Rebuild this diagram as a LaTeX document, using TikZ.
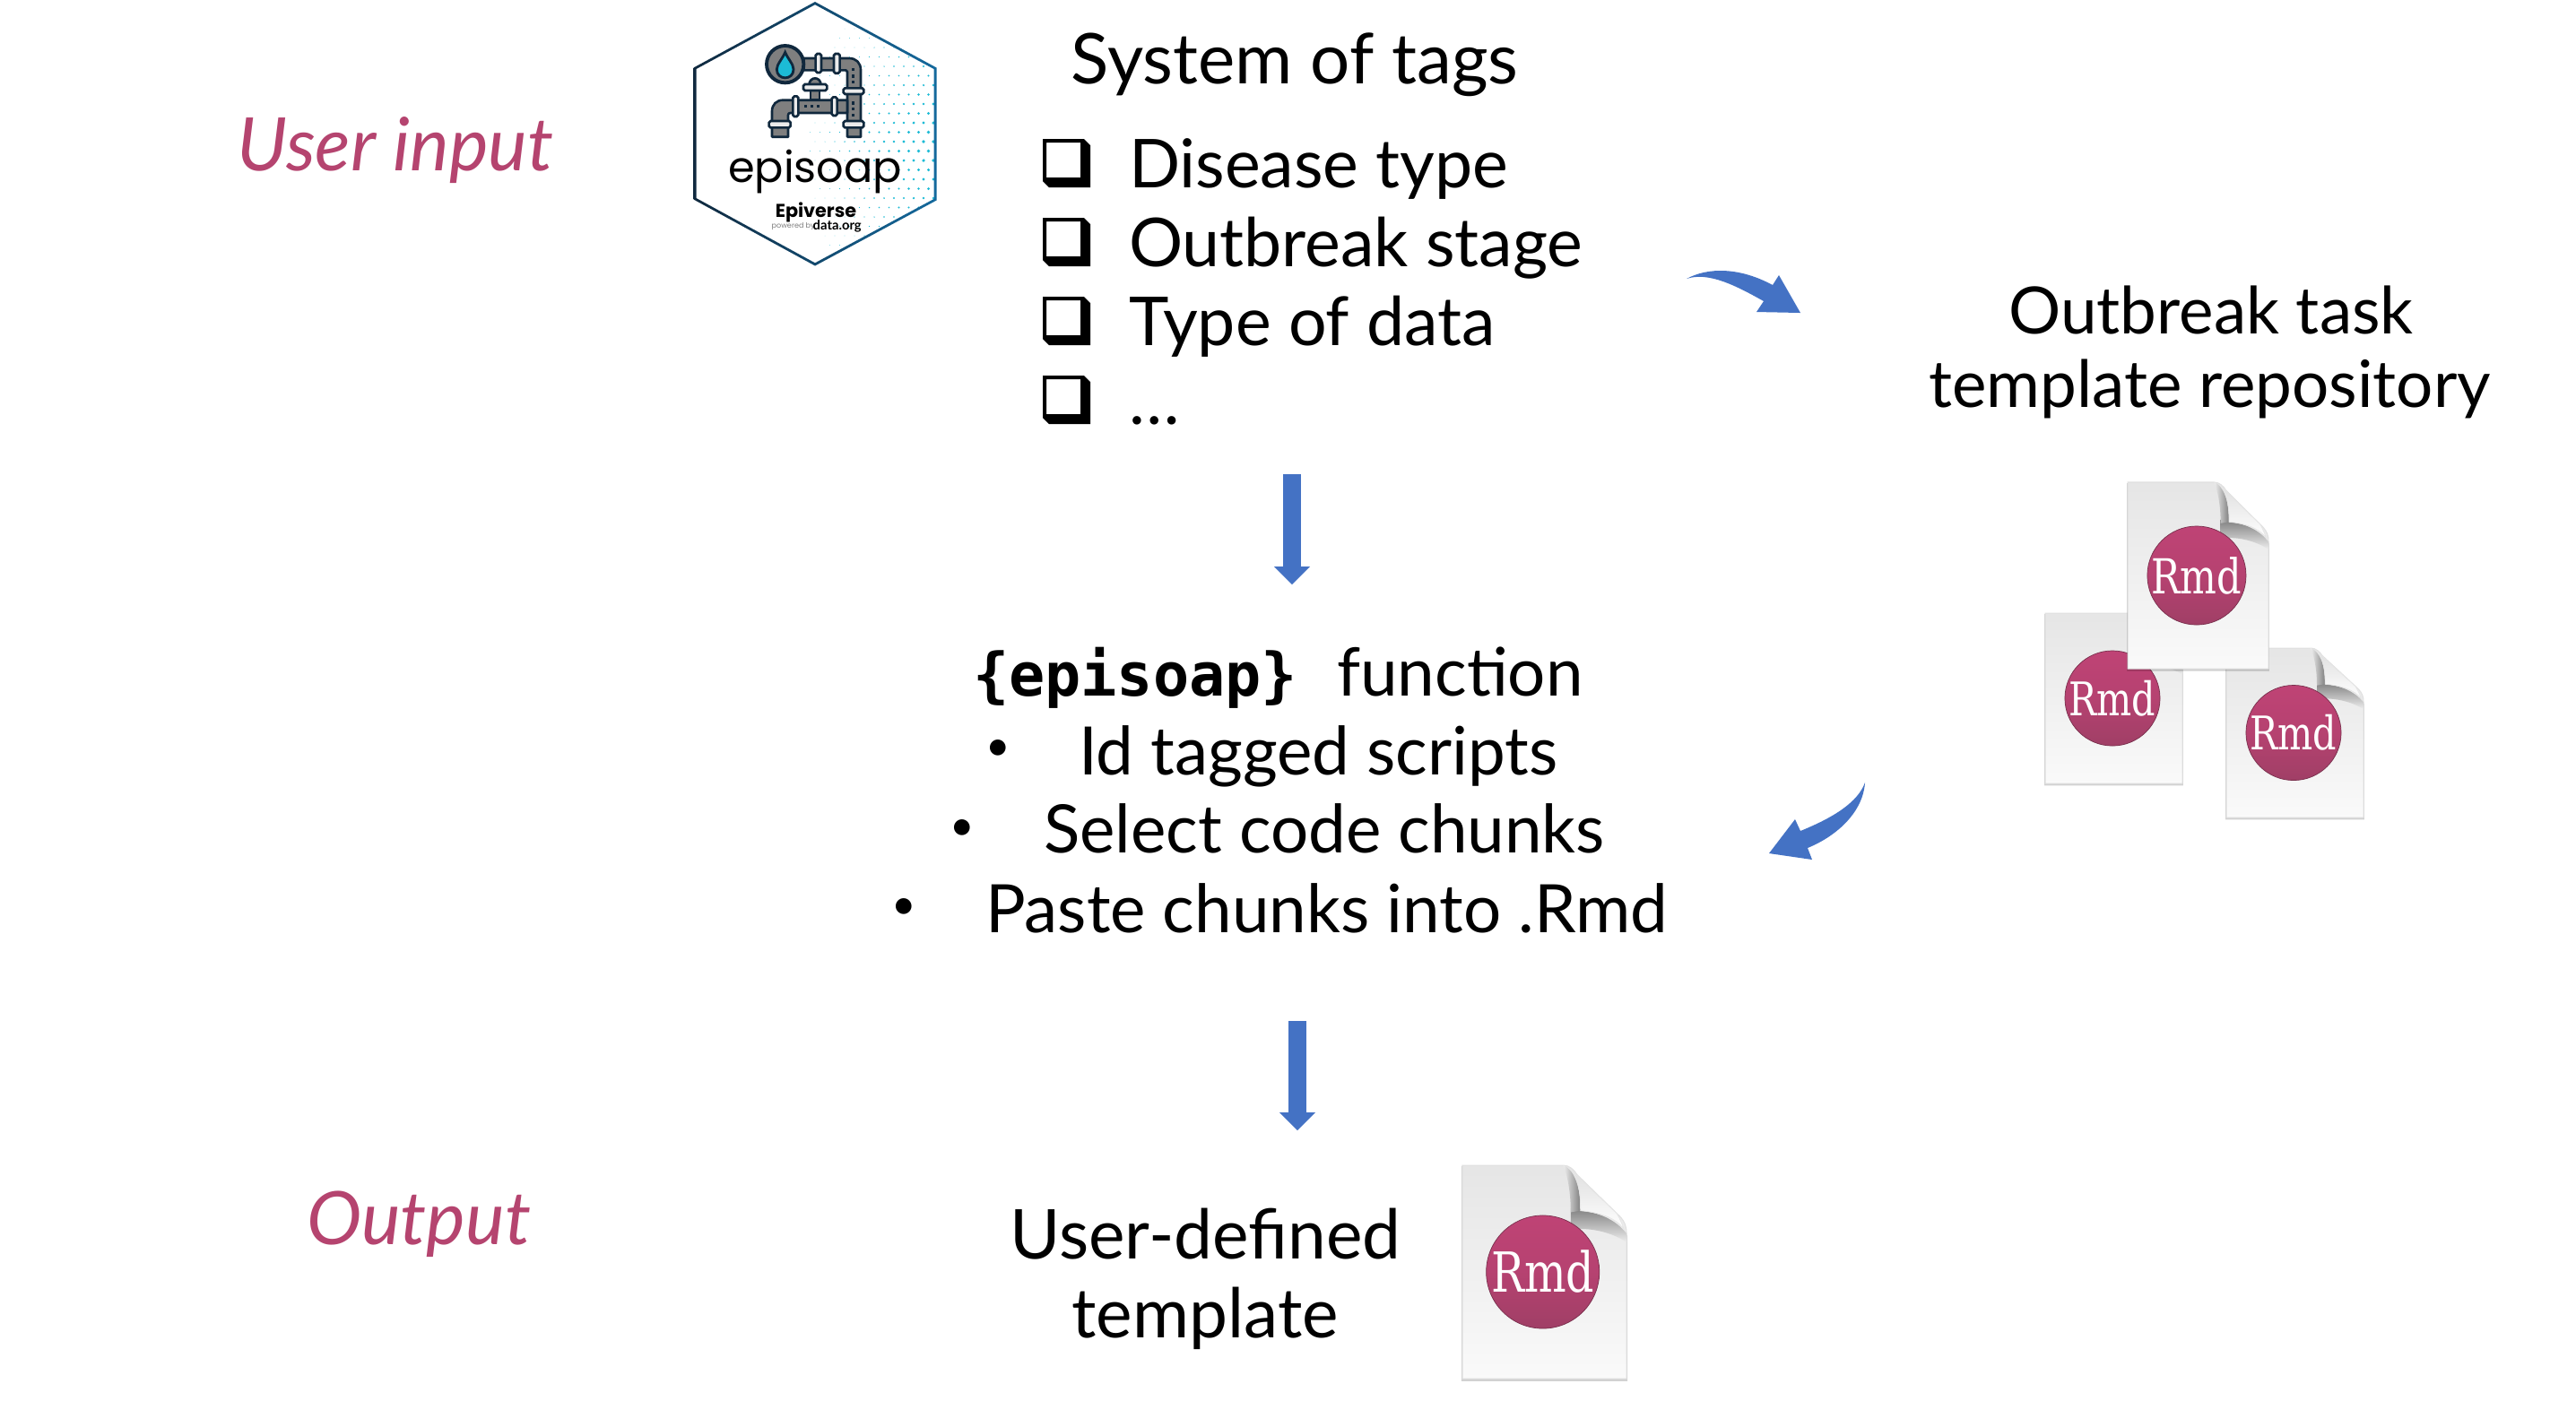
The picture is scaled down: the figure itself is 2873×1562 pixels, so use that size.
\documentclass[tikz,border=0pt]{standalone}
\usepackage{fontspec}
\usetikzlibrary{arrows.meta}
\setmainfont{Lato}
\newfontfamily\codefont{DejaVu Sans Mono}
\newfontfamily\rmdfont{DejaVu Serif}
\newfontfamily\logofont{Poppins}
\definecolor{plum}{HTML}{B5446F}
\definecolor{blockblue}{HTML}{4472C4}
\definecolor{rmdtop}{HTML}{BF4375}
\definecolor{rmdbot}{HTML}{A03F66}
\definecolor{navy}{HTML}{10283D}
\definecolor{hexblue}{HTML}{146A9E}
\definecolor{dropcyan}{HTML}{1CBBD6}
\definecolor{pipegrey}{HTML}{7F7F7F}
\newcommand{\fs}[1]{\fontsize{#1}{#1}\selectfont}
\tikzset{
  x=0.01cm,y=-0.01cm,
  body/.style={inner sep=0pt,outer sep=0pt,text=black,font=\fs{21.4}},
  midtext/.style={body,font=\fs{21.2}},
  repotext/.style={body,font=\fs{20.7}},
  outtext/.style={body,font=\fs{21.8}},
  lead/.style={body,text=plum,font=\fs{23.4}\itshape},
  blockarrow/.style={draw=blockblue,line width=5.69pt,-{Triangle[length=5.69pt,width=11.38pt,line width=0pt,fill=blockblue]}},
  pipeline/.style={draw=navy,line width=0.75pt,fill=pipegrey,line join=round},
  flange/.style={draw=navy,line width=0.75pt,fill=white!92!black,rounded corners=0.5pt},
}
% checkbox bullet with its top-left corner at (#1,#2)
\newcommand{\tagbox}[2]{%
  \begin{scope}[shift={(#1,#2)}]
    \fill[black,even odd rule] (0,0) -- (46,0) -- (53,7) -- (53,54) -- (7,54) -- (0,47) -- cycle
      (4,4) rectangle (42,43);
  \end{scope}}
% #1 name, #2 left, #3 top, #4 width, #5 height, #6 radius, #7 font size
\newcommand{\rmdicon}[7]{%
  \begin{scope}[shift={(#2,#3)},x=#4*0.01cm,y=-#5*0.01cm]
    \fill[black,opacity=.18] (-0.006,0.005) -- (0.6,0.005) -- (1.006,0.33) -- (1.006,1.012) -- (-0.006,1.012) -- cycle;
    \shade[top color=black!10,bottom color=white!98!black,draw=black!12,line width=0.3pt]
      (0,0) -- (0.615,0) .. controls (0.65,0) and (0.68,0.02) .. (0.70,0.045)
      -- (0.96,0.24) .. controls (0.99,0.265) and (1,0.285) .. (1,0.32)
      -- (1,1) -- (0,1) -- cycle;
    \shade[top color=black!50,bottom color=black!7]
      (0.72,0.213) .. controls (0.82,0.22) and (0.93,0.25) .. (1,0.32) -- (1,0.36) .. controls (0.92,0.32) and (0.8,0.29) .. (0.66,0.30) -- (0.66,0.2) -- cycle;
    \shade[left color=black!7,right color=black!50]
      (0.615,0) .. controls (0.68,0.02) and (0.72,0.1) .. (0.72,0.213) -- (0.66,0.22) .. controls (0.66,0.12) and (0.64,0.05) .. (0.615,0) -- cycle;
    \shade[top color=black!12,bottom color=white,draw=black!10,line width=0.2pt]
      (0.68,0.035) .. controls (0.71,0.08) and (0.72,0.14) .. (0.72,0.213)
      .. controls (0.82,0.22) and (0.93,0.24) .. (0.985,0.30)
      .. controls (0.97,0.27) and (0.96,0.25) .. (0.94,0.225) -- cycle;
    \node[circle,inner sep=0pt,minimum size=#6*0.02cm,top color=rmdtop,bottom color=rmdbot,middle color=rmdtop!70!rmdbot,draw=rmdbot!75!black,line width=0.2pt,text=white,font=\rmdfont\fs{#7}] (#1) at (0.49,0.5) {\scalebox{0.8}[1]{Rmd}};
  \end{scope}}
\begin{document}
\begin{tikzpicture}
\useasboundingbox (0,0) rectangle (2873,1562);
\fill[white] (0,0) rectangle (2873,1562);

% labels
\node[lead,anchor=base] (userinput) at (441,190) {User input};
\node[lead,anchor=base] (output) at (467,1388) {Output};

% hexagon sticker
\coordinate (hT) at (909,3); \coordinate (hUR) at (1043,76); \coordinate (hLR) at (1043,223);
\coordinate (hB) at (909,295); \coordinate (hLL) at (775,222); \coordinate (hUL) at (775,76);
\begin{scope}
  \clip (hT) -- (hUR) -- (hLR) -- (hB) -- (hLL) -- (hUL) -- cycle;
  \foreach \i in {0,...,16}{
    \foreach \j in {0,...,24}{
      \pgfmathsetmacro{\px}{876+\i*11.0+mod(\j,2)*5.5}
      \pgfmathsetmacro{\py}{32+\j*10.5}
      \pgfmathsetmacro{\rr}{max(0,(\px-880)/165*2.1*(1-abs(\py-165)/200))}
      \ifdim \rr pt>0.25pt
        \fill[dropcyan] (\px,\py) circle[radius=\rr];
      \fi
    }
  }
\end{scope}
\begin{scope}[even odd rule]
  \clip (909,2) -- (1044.5,75.5) -- (1044.5,223.5) -- (909,296.5) -- (773.5,222.5) -- (773.5,75.5) -- cycle
    (909,5.2) -- (1041.5,77) -- (1041.5,222) -- (909,293.3) -- (776.5,221) -- (776.5,77) -- cycle;
  \shade[left color=navy,right color=hexblue] (770,0) rectangle (1048,300);
\end{scope}

% pipe icon, in the coordinates of a 3x view of the sticker
\begin{scope}[shift={(760,0)},x=0.01cm/3,y=-0.01cm/3]
  \draw[pipeline] (410,195) -- (560,195) .. controls (585,195) and (600,210) .. (600,235) -- (600,458) -- (555,458) -- (555,240) .. controls (555,237) and (553,235) .. (550,235) -- (410,235) -- cycle;
  \draw[pipeline] (555,335) -- (340,335) .. controls (318,335) and (303,350) .. (303,372) -- (303,458) -- (357,458) -- (357,385) .. controls (357,380) and (360,378) .. (365,378) -- (555,378) -- cycle;
  \draw[pipeline] (432,300) rectangle (462,335);
  \draw[pipeline] (427,283) .. controls (430,255) and (464,255) .. (467,283) -- cycle;
  \draw[flange] (408,282) rectangle (487,303);
  \draw[flange] (449,180) rectangle (468,243);
  \draw[flange] (510,180) rectangle (530,245);
  \draw[flange] (542,295) rectangle (610,315);
  \draw[flange] (542,405) rectangle (610,427);
  \draw[flange] (373,322) rectangle (391,390);
  \draw[flange] (503,325) rectangle (521,387);
  \draw[flange] (293,405) rectangle (365,427);
  \foreach \dx/\dy in {575/233,575/255,575/275,575/345,575/365,575/385,415/355,437/355,458/355}
    \fill[navy] (\dx-5,\dy-5) rectangle (\dx+5,\dy+5);
  \draw[draw=navy,line width=1.1pt,fill=pipegrey] (347,215) circle[radius=62];
  \draw[draw=navy,line width=0.8pt,fill=dropcyan] (347,175) .. controls (355,195) and (375,215) .. (375,232) .. controls (375,270) and (319,270) .. (319,232) .. controls (319,215) and (339,195) .. (347,175) -- cycle;
\end{scope}
\node[inner sep=0pt,font=\logofont\fs{13.6}] (stickername) at (909,191) {episoap};
\node[inner sep=0pt,font=\logofont\bfseries\fs{5.9}] (stickerverse) at (910,237) {Epiverse};
\node[inner sep=0pt,text=black!50,font=\logofont\fs{2.3},anchor=west] (stickerpow) at (860,253) {powered by};
\node[inner sep=0pt,font=\rmfamily\bfseries\fs{4.2},anchor=west] (stickerorg) at (906,252) {data.org};

% tags
\node[body,font=\fs{22.2},anchor=base] (tagtitle) at (1444,93) {System of tags};
\foreach \n/\yy/\tt in {a/209/Disease type,b/297/Outbreak stage,c/385/Type of data,d/473/\dots}{
  \tagbox{1163}{\yy-54}
  \node[body,anchor=base west] (tag\n) at (1259,\yy) {\tt};
}

% repository
\node[repotext,anchor=base] (repoa) at (2466,372) {Outbreak task};
\node[repotext,anchor=base] (repob) at (2464.5,454) {template repository};

% Rmd icons
\rmdicon{rmdl}{2281}{684}{153}{190}{53}{14.7}
\rmdicon{rmdr}{2483}{723}{153}{189}{53}{14.7}
\rmdicon{rmdt}{2373}{538}{157}{208}{55}{15.3}
\rmdicon{rmdo}{1631}{1300}{183}{238}{63}{17.5}

% function
\node[midtext,anchor=base west] (fncode) at (1085,776) {\codefont\bfseries\fs{19}\{episoap\}};
\node[midtext,anchor=base west] (fna) at (1491,776) {function};
\node[midtext,anchor=base west] (fnb) at (1203,864) {Id tagged scripts};
\node[midtext,anchor=base west] (fnc) at (1164,951.5) {Select code chunks};
\node[midtext,anchor=base west] (fnd) at (1099,1040) {Paste chunks into .Rmd};
\foreach \n/\xx/\yy in {b/1113/837,c/1073/926,d/1008/1014}{
  \node[body,font=\fs{13.5},anchor=center] (bul\n) at (\xx,\yy) {•};
}

% output
\node[outtext,anchor=base] (outa) at (1344.5,1404) {User-defined};
\node[outtext,anchor=base] (outb) at (1344,1492) {template};

% block arrows
\coordinate (d1s) at (1441,529); \coordinate (d1e) at (1441,652);
\coordinate (d2s) at (1447,1139); \coordinate (d2e) at (1447,1261);
\draw[blockarrow] (d1s) -- (d1e);
\draw[blockarrow] (d2s) -- (d2e);

% curved arrows
\fill[blockblue] (1881,311) .. controls (1905,298) and (1940,298) .. (1977,318) -- (1984,307) -- (2008,349) -- (1959,348) -- (1967,336) .. controls (1935,318) and (1905,303) .. (1881,311) -- cycle;
\fill[blockblue] (2080,873) .. controls (2072,895) and (2045,912) .. (2008,927) -- (2002,914) -- (1973,952) -- (2021,959) -- (2016,946) .. controls (2050,932) and (2078,905) .. (2080,873) -- cycle;
\end{tikzpicture}
\end{document}
